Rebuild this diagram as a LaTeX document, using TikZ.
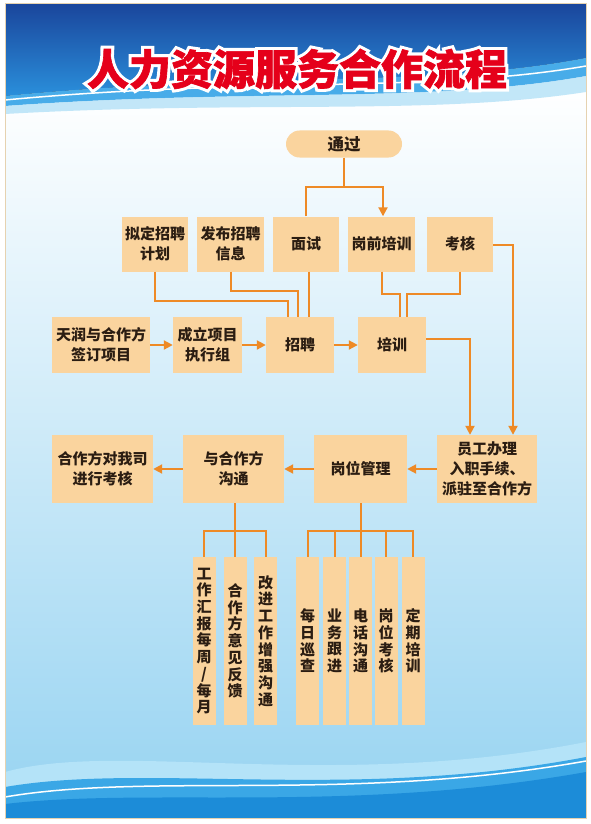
\documentclass[tikz,border=0pt]{standalone}
\usepackage{fontspec}
\newfontfamily\cjk{Noto Sans CJK SC}
\newfontfamily\titleout{Noto Sans CJK SC}[BoldFeatures={FakeBold=16}]
\newfontfamily\titlein{Noto Sans CJK SC}[BoldFeatures={FakeBold=1.5}]
\usetikzlibrary{arrows.meta}
\definecolor{boxc}{HTML}{FAD49E}
\definecolor{linec}{HTML}{EE8A26}
\definecolor{txtc}{HTML}{2B1D12}
\definecolor{titler}{HTML}{E5001A}
\definecolor{hdtop}{HTML}{1A469C}
\definecolor{hdbot}{HTML}{2A8FDB}
\definecolor{hdlight}{HTML}{48ACE9}
\definecolor{hdpale}{HTML}{A9DDF6}
\definecolor{bgbot}{HTML}{96D3F1}
\definecolor{wpale}{HTML}{B4E3F8}
\definecolor{wmid}{HTML}{3AA7E6}
\definecolor{wdeep}{HTML}{1C8CD8}
\definecolor{framec}{HTML}{E6D2B0}
\tikzset{
 box/.style={fill=boxc, draw=none, inner sep=0pt, align=center, text=txtc,
   font=\cjk\bfseries\fontsize{15}{20}\selectfont},
 vbox/.style={box, minimum width=23pt, minimum height=168pt,
   font=\cjk\bfseries\fontsize{15}{16.7}\selectfont},
 conn/.style={draw=linec, line width=2pt},
 arr/.style={conn, -{Triangle[length=9pt,width=9pt]}},
}
\begin{document}
\begin{tikzpicture}[x=1pt,y=-1pt]
\useasboundingbox (0,0) rectangle (591,824);
\fill[white] (0,0) rectangle (591,824);
% background
\fill[top color=white, bottom color=bgbot] (5,90) rectangle (586,818);
% header
\fill[top color=hdtop, bottom color=hdbot] (5,4) -- (586,4) -- (586,58) .. controls (430,88) and (250,72) .. (5,96) -- cycle;
\fill[hdlight] (5,96) .. controls (250,72) and (430,88) .. (586,58) -- (586,76) .. controls (430,104) and (250,88) .. (5,106) -- cycle;
\fill[hdpale, opacity=0.7] (5,106) .. controls (250,88) and (430,104) .. (586,76) -- (586,92) .. controls (430,116) and (250,100) .. (5,114) -- cycle;
\draw[white, line width=1.5pt] (5,100) .. controls (250,77) and (430,93) .. (586,66);
% bottom waves
\fill[wpale] (5,772) .. controls (120,740) and (330,792) .. (586,742) -- (586,818) -- (5,818) -- cycle;
\fill[wmid] (5,787) .. controls (150,762) and (350,802) .. (586,757) -- (586,818) -- (5,818) -- cycle;
\fill[wdeep] (5,804) .. controls (150,787) and (350,814) .. (586,772) -- (586,818) -- (5,818) -- cycle;
\draw[white, line width=1.5pt] (5,797) .. controls (150,772) and (350,803) .. (586,761);
\draw[framec, line width=1pt] (5,4) rectangle (586,818);
% title: white outline (stroked) then red
\node[inner sep=0pt, text=white, font=\titleout\bfseries\fontsize{42}{42}\selectfont] (titlebg) at (297,69) {人力资源服务合作流程};
\node[inner sep=0pt, text=titler, font=\titlein\bfseries\fontsize{42}{42}\selectfont] (title) at (297,69) {人力资源服务合作流程};
% nodes
\node[box, rounded corners=13.5pt, minimum width=116pt, minimum height=27pt, font=\cjk\bfseries\fontsize{16.5}{18}\selectfont] (pass) at (344,144) {通过};
\node[box, minimum width=66pt, minimum height=55pt] (plan) at (155,244) {拟定招聘\\计划};
\node[box, minimum width=67pt, minimum height=55pt] (pub) at (230.5,244) {发布招聘\\信息};
\node[box, minimum width=66pt, minimum height=55pt] (iv) at (306,244) {面试};
\node[box, minimum width=67pt, minimum height=55pt] (pre) at (381.5,244) {岗前培训};
\node[box, minimum width=66pt, minimum height=55pt] (exam) at (460,244) {考核};
\node[box, minimum width=98pt, minimum height=56pt] (sign) at (101,345) {天润与合作方\\签订项目};
\node[box, minimum width=69pt, minimum height=56pt] (team) at (207.5,345) {成立项目\\执行组};
\node[box, minimum width=68pt, minimum height=56pt] (recr) at (300,345) {招聘};
\node[box, minimum width=68pt, minimum height=56pt] (train) at (392,345) {培训};
\node[box, minimum width=101pt, minimum height=68pt] (eval) at (102.5,469) {合作方对我司\\进行考核};
\node[box, minimum width=101pt, minimum height=68pt] (comm) at (233.5,469) {与合作方\\沟通};
\node[box, minimum width=93pt, minimum height=68pt] (post) at (360.5,469) {岗位管理};
\node[box, minimum width=100pt, minimum height=68pt] (hire) at (487,469) {员工办理\\入职手续、\\派驻至合作方};
\node[vbox] (v1) at (204,641) {工\\作\\汇\\报\\每\\周\\/\\每\\月};
\node[vbox] (v2) at (235,641) {合\\作\\方\\意\\见\\反\\馈};
\node[vbox] (v3) at (265.5,641) {改\\进\\工\\作\\增\\强\\沟\\通};
\node[vbox] (r1) at (307.5,641) {每\\日\\巡\\查};
\node[vbox] (r2) at (334.5,641) {业\\务\\跟\\进};
\node[vbox] (r3) at (360.5,641) {电\\话\\沟\\通};
\node[vbox] (r4) at (386,641) {岗\\位\\考\\核};
\node[vbox] (r5) at (413,641) {定\\期\\培\\训};
% connectors top
\coordinate (j1) at (344,187);
\draw[conn] (pass.south) -- (j1);
\draw[conn] (iv.north) |- (j1);
\draw[arr] (j1) -| ([xshift=1.5pt]pre.north);
\draw[conn] (plan.south) -- ++(0,29.5) -| ([xshift=-12pt]recr.north);
\draw[conn] (pub.south) -- ++(0,19.5) -| ([xshift=-2pt]recr.north);
\draw[conn] ([xshift=3pt]iv.south) -- ([xshift=9pt]recr.north);
\draw[conn] (pre.south) -- ++(0,22.5) -| ([xshift=8pt]train.north);
\draw[conn] (exam.south) -- ++(0,22.5) -| ([xshift=15pt]train.north);
\draw[arr] ([yshift=-1pt]exam.east) -| ([xshift=26pt]hire.north);
\draw[arr] ([yshift=6pt]train.east) -| ([xshift=-17pt]hire.north);
% middle row arrows
\draw[arr] (sign) -- (team);
\draw[arr] (team) -- (recr);
\draw[arr] (recr) -- (train);
% bottom row arrows
\draw[arr] (hire) -- (post);
\draw[arr] (post) -- (comm);
\draw[arr] (comm) -- (eval);
% trees
\coordinate (lt) at (235,531);
\draw[conn] ([xshift=1.5pt]comm.south) -- (lt);
\draw[conn] (v1.north) |- (v3.north |- lt) -- (v3.north);
\draw[conn] (lt) -- (v2.north);
\coordinate (rt) at (360.5,531);
\draw[conn] (post.south) -- (rt) -- (r3.north);
\draw[conn] (r1.north) |- (r5.north |- rt) -- (r5.north);
\draw[conn] (r2.north |- rt) -- (r2.north);
\draw[conn] (r4.north |- rt) -- (r4.north);
\end{tikzpicture}
\end{document}
